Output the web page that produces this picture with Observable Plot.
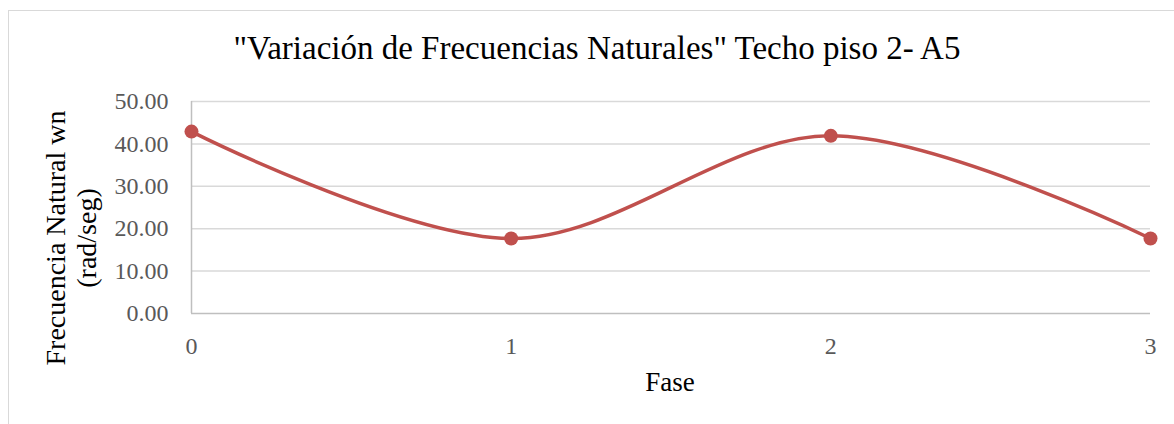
<!DOCTYPE html>
<html>
<head>
<meta charset="utf-8">
<script src="https://cdn.jsdelivr.net/npm/d3@7"></script>
<script src="https://cdn.jsdelivr.net/npm/@observablehq/plot@0.6"></script>
<style>
  html, body { margin: 0; padding: 0; background: #fff; overflow: hidden; }
  #wrap { position: relative; width: 1174px; height: 424px; overflow: hidden; font-family: "Liberation Serif", serif; }
  #frame { position: absolute; left: 8px; top: 10px; width: 1200px; height: 440px; border: 1.5px solid #d9d9d9; box-sizing: border-box; }
  #chart { position: absolute; left: 0; top: 0; }
  .lbl { position: absolute; white-space: nowrap; color: #000; line-height: 1; }
  #title { left: 597px; top: 32px; transform: translateX(-50%); font-size: 33px; }
  #xlabel { left: 670px; top: 369px; transform: translateX(-50%); font-size: 27px; }
  #ylabel { left: 71px; top: 238px; transform: translate(-50%, -50%) rotate(-90deg); font-size: 28px; line-height: 31px; text-align: center; }
</style>
</head>
<body>
<div id="wrap">
  <div id="frame"></div>
  <div id="chart"></div>
  <div class="lbl" id="title"></div>
  <div class="lbl" id="xlabel"></div>
  <div class="lbl" id="ylabel"></div>
</div>
<script>
const titleText = "\"Variación de Frecuencias Naturales\" Techo piso 2- A5";
const xTitle = "Fase";
const yTitleLines = ["Frecuencia Natural wn", "(rad/seg)"];
const fases = [0, 1, 2, 3];
const frecuencias = [42.9, 17.7, 41.9, 17.7];
const yTicks = [0, 10, 20, 30, 40, 50];
const xTicks = [0, 1, 2, 3];

const data = fases.map((f, i) => ({fase: f, wn: frecuencias[i]}));

document.getElementById("title").textContent = titleText;
document.getElementById("xlabel").textContent = xTitle;
document.getElementById("ylabel").innerHTML = yTitleLines.join("<br>");

const chart = Plot.plot({
  width: 1174,
  height: 424,
  marginLeft: 191,
  marginRight: 24,
  marginTop: 101,
  marginBottom: 111,
  style: {fontFamily: "Liberation Serif", fontSize: "24px", color: "#595959", background: "transparent"},
  x: {domain: [0, 3], label: null},
  y: {domain: [0, 50], label: null},
  marks: [
    Plot.gridY(yTicks.filter(d => d > 0), {stroke: "#d9d9d9", strokeOpacity: 1, strokeWidth: 1.5}),
    Plot.ruleY([0], {stroke: "#bfbfbf", strokeWidth: 1.5}),
    Plot.ruleX([0], {stroke: "#bfbfbf", strokeWidth: 1.5}),
    Plot.axisY(yTicks, {tickSize: 0, tickPadding: 23, tickFormat: d => d.toFixed(2), fill: "#595959", fontSize: 24, label: null}),
    Plot.axisX(xTicks, {tickSize: 0, tickPadding: 23, tickFormat: d => String(d), fill: "#595959", fontSize: 24, label: null}),
    Plot.line(data, {x: "fase", y: "wn", curve: "catmull-rom", stroke: "#c0504d", strokeWidth: 3.5}),
    Plot.dot(data, {x: "fase", y: "wn", r: 7, fill: "#c0504d", stroke: "none"})
  ]
});
document.getElementById("chart").appendChild(chart);
</script>
</body>
</html>
